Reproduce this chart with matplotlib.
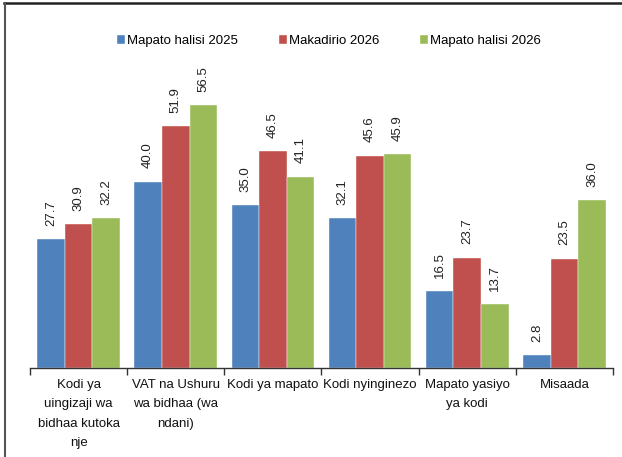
#!/usr/bin/env python3
# -*- coding: utf-8 -*-

import numpy as np
import matplotlib
matplotlib.use("Agg")
import matplotlib.pyplot as plt
from matplotlib.lines import Line2D

categories = ["Kodi ya\nuingizaji wa\nbidhaa kutoka\nnje",
              "VAT na Ushuru\nwa bidhaa (wa\nndani)",
              "Kodi ya mapato",
              "Kodi nyinginezo",
              "Mapato yasiyo\nya kodi",
              "Misaada"]
series_names = ["Mapato halisi 2025", "Makadirio 2026", "Mapato halisi 2026"]
halisi_2025 = [27.7, 40.0, 35.0, 32.1, 16.5, 2.8]
makadirio_2026 = [30.9, 51.9, 46.5, 45.6, 23.7, 23.5]
halisi_2026 = [32.2, 56.5, 41.1, 45.9, 13.7, 36.0]
colors = ["#4F81BD", "#C0504D", "#9BBB59"]

plt.rcParams['font.family'] = ['Liberation Sans', 'DejaVu Sans']

fig = plt.figure(figsize=(6.22, 4.57), dpi=100)
ax = fig.add_axes([30 / 622, 89 / 457, 583 / 622, 328 / 457])

x = np.arange(len(categories))
width = 0.284
for i, (vals, name) in enumerate(zip([halisi_2025, makadirio_2026, halisi_2026],
                                     series_names)):
    pos = x + (i - 1) * width
    bars = ax.bar(pos, vals, width, color=colors[i], label=name,
                  edgecolor="white", linewidth=0.3)
    for b, v in zip(bars, vals):
        ax.annotate(f"{v:.1f}", (b.get_x() + b.get_width() / 2, v),
                    xytext=(0, 9.5), textcoords="offset points",
                    ha="center", va="bottom", rotation=90, fontsize=9.5,
                    color="#222222")

ax.set_xlim(-0.5, len(categories) - 0.5)
ax.set_ylim(0, 70.4)
for s in ["top", "right", "left"]:
    ax.spines[s].set_visible(False)
ax.spines["bottom"].set_color("#333333")
ax.spines["bottom"].set_linewidth(1.0)
ax.set_yticks([])

ax.set_xticks(x)
ax.set_xticklabels(categories, fontsize=9.5, linespacing=1.8, color="#111111")
ax.tick_params(axis="x", which="major", length=0, pad=8)
ax.set_xticks(np.arange(len(categories) + 1) - 0.5, minor=True)
ax.tick_params(axis="x", which="minor", length=5, width=1.0, color="#333333")

fig.legend(loc="center", bbox_to_anchor=(329 / 622, 1 - 41 / 457), ncol=3,
           frameon=False, fontsize=9.5, handlelength=0.6, handleheight=0.6,
           handletextpad=0.15, columnspacing=3.1)

# outer frame lines
fig.add_artist(Line2D([4 / 622, 1.0], [1 - 3 / 457, 1 - 3 / 457],
                      transform=fig.transFigure, color="#222222", linewidth=1.8))
fig.add_artist(Line2D([5 / 622, 5 / 622], [0, 1 - 3 / 457],
                      transform=fig.transFigure, color="#555555", linewidth=1.5))

fig.savefig("out.png", dpi=100)
